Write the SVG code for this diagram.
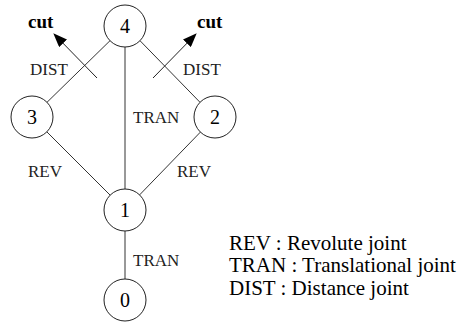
<svg xmlns="http://www.w3.org/2000/svg" width="470" height="334" viewBox="0 0 470 334">
<defs>
<marker id="ah" viewBox="0 0 14 11" refX="13" refY="5.5" markerWidth="14" markerHeight="11" markerUnits="userSpaceOnUse" orient="auto">
<path d="M0,0 L14,5.5 L0,11 z" fill="#000"/>
</marker>
<style>
.node circle{fill:#fff;stroke:#222;stroke-width:1}
.node text{font-family:'Liberation Serif','Times New Roman',serif;font-size:20px;fill:#000;text-anchor:middle}
.edge{stroke:#333;stroke-width:1;fill:none}
.cutline{stroke:#222;stroke-width:1;fill:none}
.lbl{font-family:'Liberation Serif','Times New Roman',serif;font-size:17px;fill:#222}
.cut{font-family:'Liberation Serif','Times New Roman',serif;font-size:19px;font-weight:bold;fill:#000}
.legend{font-family:'Liberation Serif','Times New Roman',serif;font-size:21px;fill:#000}
</style>
</defs>
<rect width="470" height="334" fill="#fff"/>
<g id="connectors">
<line class="edge" x1="110" y1="40.7" x2="47" y2="102.3"/>
<line class="edge" x1="140" y1="40.7" x2="200" y2="102.3"/>
<line class="edge" x1="46.8" y1="131.8" x2="110.2" y2="195.2"/>
<line class="edge" x1="200.4" y1="132.1" x2="139.6" y2="194.9"/>
<line class="edge" x1="125" y1="47" x2="125" y2="189"/>
<line class="edge" x1="125" y1="231" x2="125" y2="279"/>
<line class="cutline" x1="97" y1="78" x2="54" y2="34" marker-end="url(#ah)"/>
<line class="cutline" x1="153" y1="78" x2="196" y2="34" marker-end="url(#ah)"/>
</g>
<g id="labels">
<text class="cut" x="28" y="28">cut</text>
<text class="cut" x="197" y="28">cut</text>
<text class="lbl" x="30" y="75">DIST</text>
<text class="lbl" x="183" y="75">DIST</text>
<text class="lbl" x="133" y="123">TRAN</text>
<text class="lbl" x="28" y="177">REV</text>
<text class="lbl" x="177" y="177">REV</text>
<text class="lbl" x="133" y="266">TRAN</text>
</g>
<g id="node4" class="node"><circle cx="125" cy="26" r="21"/><text x="125" y="33">4</text></g>
<g id="node3" class="node"><circle cx="32" cy="117" r="21"/><text x="32" y="124">3</text></g>
<g id="node2" class="node"><circle cx="215" cy="117" r="21"/><text x="215" y="124">2</text></g>
<g id="node1" class="node"><circle cx="125" cy="210" r="21"/><text x="125" y="217">1</text></g>
<g id="node0" class="node"><circle cx="125" cy="300" r="21"/><text x="125" y="307">0</text></g>
<g id="legend">
<text class="legend" x="229" y="250">REV : Revolute joint</text>
<text class="legend" x="229" y="272">TRAN : Translational joint</text>
<text class="legend" x="229" y="295">DIST : Distance joint</text>
</g>
</svg>
